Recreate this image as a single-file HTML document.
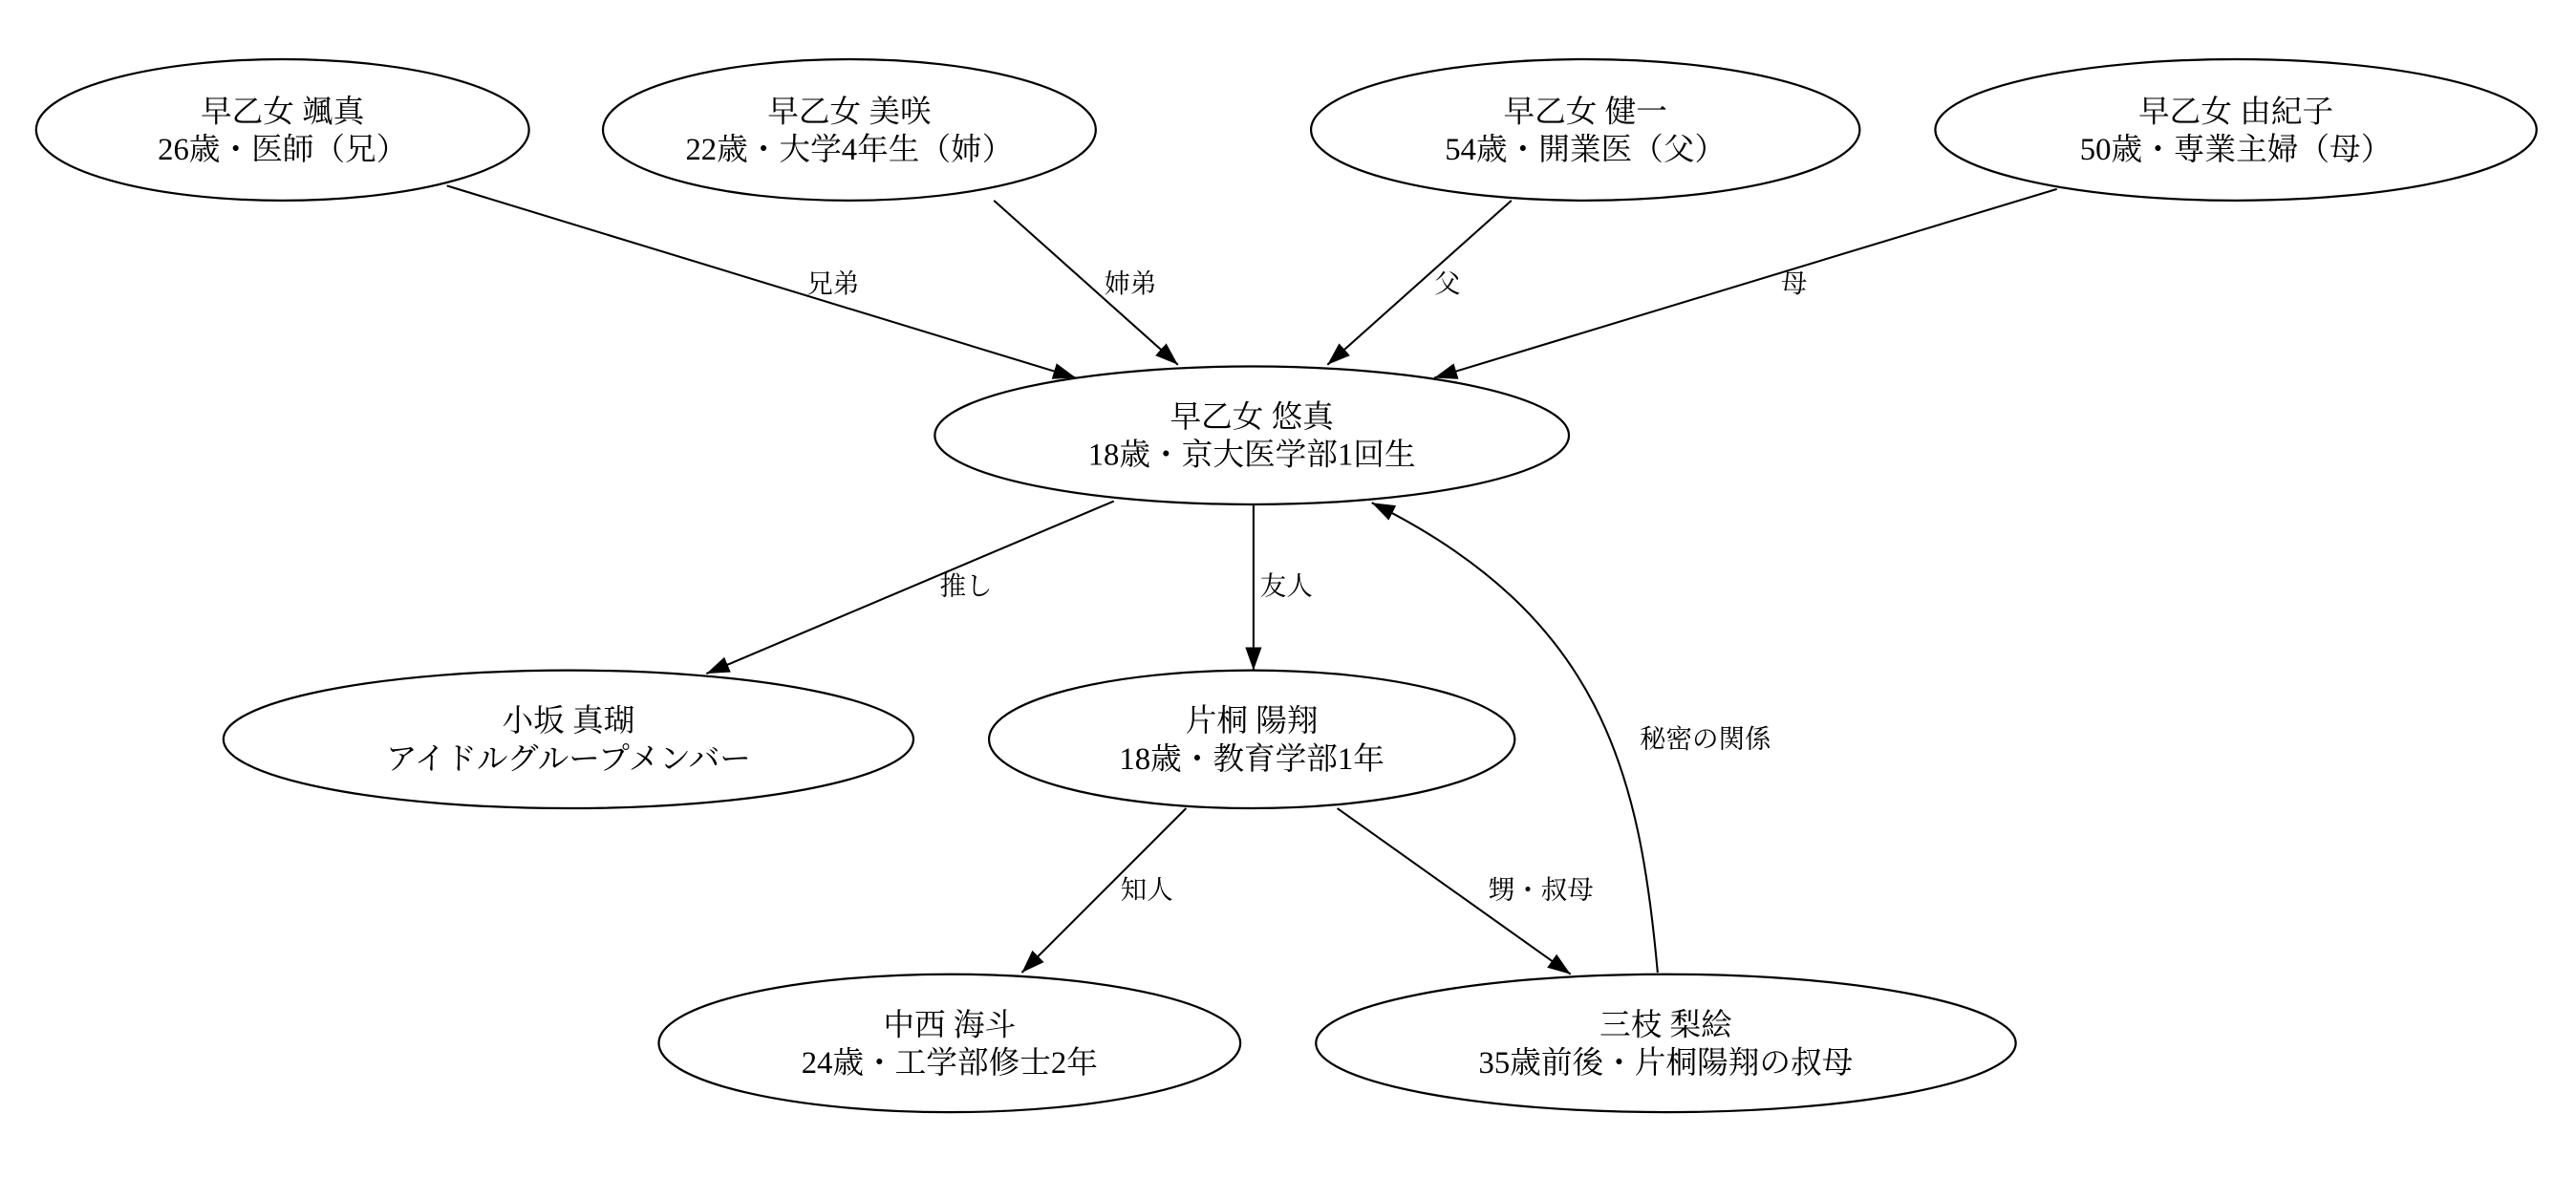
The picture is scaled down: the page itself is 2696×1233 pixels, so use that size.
<!DOCTYPE html>
<html><head><meta charset="utf-8">
<style>
html,body{margin:0;padding:0;background:#fff;}
svg{display:block;}
text{font-family:"Liberation Serif","Noto Serif CJK SC","Noto Sans CJK JP",serif;fill:#000;}
</style></head>
<body>
<svg width="2696" height="1233" viewBox="0 0 1568 717" xmlns="http://www.w3.org/2000/svg">
<defs>
<marker id="a" viewBox="0 0 14 10" refX="14" refY="5" markerWidth="14" markerHeight="10" markerUnits="userSpaceOnUse" orient="auto">
<path d="M0,0 L14,5 L0,10 z" fill="#000"/>
</marker>
</defs>
<g fill="none" stroke="#000" stroke-width="1.3">
<ellipse cx="172" cy="79" rx="150" ry="43"/>
<ellipse cx="517" cy="79" rx="150" ry="43"/>
<ellipse cx="965" cy="79" rx="167" ry="43"/>
<ellipse cx="1361" cy="79" rx="183" ry="43"/>
<ellipse cx="762" cy="265" rx="193" ry="42"/>
<ellipse cx="346" cy="450" rx="210" ry="42"/>
<ellipse cx="762" cy="450" rx="160" ry="42"/>
<ellipse cx="578" cy="635" rx="177" ry="42"/>
<ellipse cx="1014" cy="635" rx="213" ry="42"/>
</g>
<g fill="none" stroke="#000" stroke-width="1.2" marker-end="url(#a)">
<path d="M272,113 L655,230"/>
<path d="M605,122 L717,222"/>
<path d="M920,122 L808,222"/>
<path d="M1252,115 L873,230"/>
<path d="M678,305 L430,410"/>
<path d="M763,307 L763,408"/>
<path d="M722,492 L622,592"/>
<path d="M814,492 L956,593"/>
<path d="M1009,592 C998,470 975,375 835,306"/>
</g>
<g font-size="19" text-anchor="middle" xml:space="preserve">
<text x="172" y="74">早乙女  颯真</text><text x="172" y="97">26歳・医師（兄）</text>
<text x="517" y="74">早乙女  美咲</text><text x="517" y="97">22歳・大学4年生（姉）</text>
<text x="965" y="74">早乙女  健一</text><text x="965" y="97">54歳・開業医（父）</text>
<text x="1361" y="74">早乙女  由紀子</text><text x="1361" y="97">50歳・専業主婦（母）</text>
<text x="762" y="260">早乙女  悠真</text><text x="762" y="283">18歳・京大医学部1回生</text>
<text x="346" y="445">小坂  真瑚</text><text x="346" y="468">アイドルグループメンバー</text>
<text x="762" y="445">片桐  陽翔</text><text x="762" y="468">18歳・教育学部1年</text>
<text x="578" y="630">中西  海斗</text><text x="578" y="653">24歳・工学部修士2年</text>
<text x="1014" y="630">三枝  梨絵</text><text x="1014" y="653">35歳前後・片桐陽翔の叔母</text>
</g>
<g font-size="16" text-anchor="middle">
<text x="507" y="178">兄弟</text>
<text x="688" y="178">姉弟</text>
<text x="881" y="178">父</text>
<text x="1092" y="178">母</text>
<text x="588" y="362">推し</text>
<text x="783" y="362">友人</text>
<text x="698" y="547">知人</text>
<text x="938" y="547">甥・叔母</text>
<text x="1038" y="455">秘密の関係</text>
</g>
</svg>
</body></html>
